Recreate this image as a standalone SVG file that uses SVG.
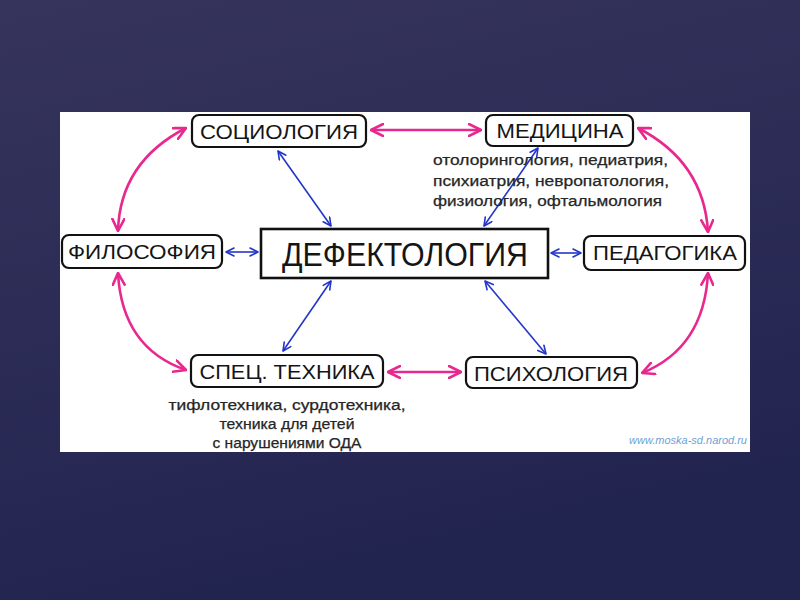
<svg xmlns="http://www.w3.org/2000/svg" width="800" height="600" viewBox="0 0 800 600">
<defs>
<linearGradient id="bg" x1="0" y1="0" x2="0.3" y2="1">
<stop offset="0" stop-color="#36345c"/>
<stop offset="1" stop-color="#222450"/>
</linearGradient>
<marker id="pk" viewBox="0 0 14 14" refX="13" refY="7" markerWidth="14" markerHeight="14" markerUnits="userSpaceOnUse" orient="auto-start-reverse">
<path d="M1,1 L13,7 L1,13" fill="none" stroke="#e8288f" stroke-width="2.6" stroke-linecap="round" stroke-linejoin="round"/>
</marker>
<marker id="bl" viewBox="0 0 10 10" refX="9" refY="5" markerWidth="10" markerHeight="10" markerUnits="userSpaceOnUse" orient="auto-start-reverse">
<path d="M1,1 L9,5 L1,9" fill="none" stroke="#2436c8" stroke-width="1.6" stroke-linecap="round" stroke-linejoin="round"/>
</marker>
</defs>
<style>
.box{fill:#fff;stroke:#111;stroke-width:2.2}
.lbl{font-family:"Liberation Sans",Arial,sans-serif;font-size:21px;fill:#151515;text-anchor:middle}
.sub{font-family:"Liberation Sans",Arial,sans-serif;font-size:14px;fill:#262626;stroke:#262626;stroke-width:0.25}
.pink{fill:none;stroke:#e8288f;stroke-width:2.6;marker-start:url(#pk);marker-end:url(#pk)}
.blue{fill:none;stroke:#2436c8;stroke-width:1.6;marker-start:url(#bl);marker-end:url(#bl)}
</style>
<rect width="800" height="600" fill="url(#bg)"/>
<rect x="60" y="112" width="690" height="340" fill="#fff"/>

<g id="connectors">
<path class="pink" d="M371,130 L481,130"/>
<path class="pink" d="M388,372 L461,372"/>
<path class="pink" d="M186,128 Q120,162 118,231"/>
<path class="pink" d="M118,273 Q122,348 186,370"/>
<path class="pink" d="M638,128 Q704,162 708,232"/>
<path class="pink" d="M708,273 Q704,348 642,373"/>
<path class="blue" d="M278,151 L331,226"/>
<path class="blue" d="M538,148 L484,226"/>
<path class="blue" d="M226,252 L258,252"/>
<path class="blue" d="M551,253 L581,253"/>
<path class="blue" d="M331,281 L283,351"/>
<path class="blue" d="M485,281 L546,354"/>
</g>

<g id="sociology">
<rect class="box" x="192" y="115" width="174" height="32" rx="7"/>
<text class="lbl" x="279" y="139" textLength="158" lengthAdjust="spacingAndGlyphs">СОЦИОЛОГИЯ</text>
</g>
<g id="medicine">
<rect class="box" x="486" y="115" width="147" height="31" rx="7"/>
<text class="lbl" x="560" y="138" textLength="127" lengthAdjust="spacingAndGlyphs">МЕДИЦИНА</text>
<text class="sub" x="433" y="165" textLength="235" lengthAdjust="spacingAndGlyphs">отолорингология, педиатрия,</text>
<text class="sub" x="433" y="186" textLength="236" lengthAdjust="spacingAndGlyphs">психиатрия, невропатология,</text>
<text class="sub" x="433" y="206" textLength="229" lengthAdjust="spacingAndGlyphs">физиология, офтальмология</text>
</g>
<g id="philosophy">
<rect class="box" x="62" y="235" width="160" height="33" rx="7"/>
<text class="lbl" x="142" y="259" textLength="148" lengthAdjust="spacingAndGlyphs">ФИЛОСОФИЯ</text>
</g>
<g id="defectology">
<rect x="261" y="229" width="287" height="49" fill="#fff" stroke="#111" stroke-width="2.6"/>
<text class="lbl" x="405" y="266" style="font-size:34px" textLength="246" lengthAdjust="spacingAndGlyphs">ДЕФЕКТОЛОГИЯ</text>
</g>
<g id="pedagogy">
<rect class="box" x="584" y="236" width="161" height="34" rx="7"/>
<text class="lbl" x="665" y="260" textLength="144" lengthAdjust="spacingAndGlyphs">ПЕДАГОГИКА</text>
</g>
<g id="spec-tech">
<rect class="box" x="191" y="355" width="192" height="32" rx="7"/>
<text class="lbl" x="287" y="379" textLength="175" lengthAdjust="spacingAndGlyphs">СПЕЦ. ТЕХНИКА</text>
<text class="sub" x="287" y="410" text-anchor="middle" textLength="237" lengthAdjust="spacingAndGlyphs">тифлотехника, сурдотехника,</text>
<text class="sub" x="287" y="429" text-anchor="middle" textLength="135" lengthAdjust="spacingAndGlyphs">техника для детей</text>
<text class="sub" x="287" y="448" text-anchor="middle" textLength="149" lengthAdjust="spacingAndGlyphs">с нарушениями ОДА</text>
</g>
<g id="psychology">
<rect class="box" x="466" y="357" width="171" height="31" rx="7"/>
<text class="lbl" x="551" y="381" textLength="154" lengthAdjust="spacingAndGlyphs">ПСИХОЛОГИЯ</text>
</g>
<text x="747" y="444" text-anchor="end" font-family="Liberation Sans, Arial, sans-serif" font-size="11" font-style="italic" fill="#6f9fd6">www.moska-sd.narod.ru</text>
</svg>
